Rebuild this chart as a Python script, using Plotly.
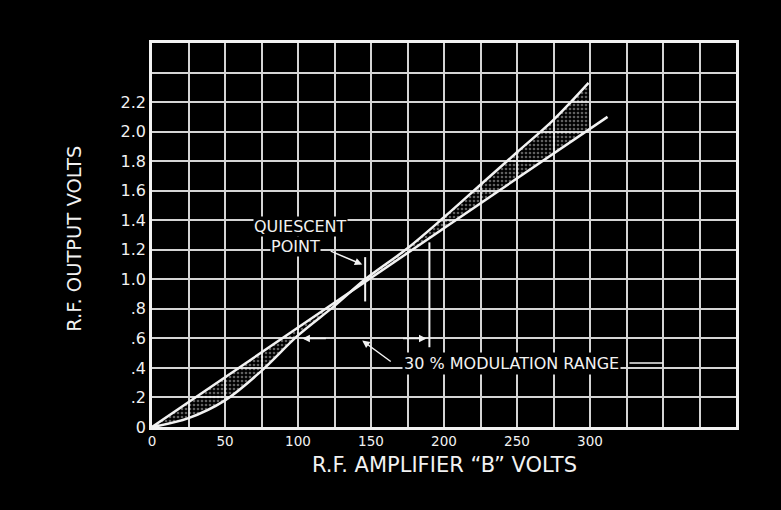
import numpy as np
import plotly.graph_objects as go

# ---- data ----
X_TICKS = [0, 50, 100, 150, 200, 250, 300]
Y_TICKS = [0, 0.2, 0.4, 0.6, 0.8, 1.0, 1.2, 1.4, 1.6, 1.8, 2.0, 2.2]
Y_TICK_TEXT = ["0", ".2", ".4", ".6", ".8", "1.0", "1.2", "1.4", "1.6", "1.8", "2.0", "2.2"]

LINE_X = [0, 312]          # linear reference
LINE_Y = [0, 2.1]

S_X = [0, 25, 50, 75, 100, 125, 146, 175, 200, 225, 250, 275, 299]   # actual characteristic
S_Y = [0, 0.06, 0.18, 0.38, 0.62, 0.82, 1.00, 1.21, 1.42, 1.64, 1.86, 2.08, 2.33]

Q_X, Q_Y = 146, 1.0                 # quiescent point
MOD_LO, MOD_HI = 101, 190           # 30% modulation range (B volts)

WHITE = "#f2f2f2"
GRID = "#d4d4d4"

fig = go.Figure()

# shaded (dotted) region between the two curves
line_on_s = np.interp(S_X, LINE_X, LINE_Y)
fig.add_trace(go.Scatter(
    x=list(S_X) + list(S_X[::-1]),
    y=list(S_Y) + list(line_on_s[::-1]),
    fill="toself", mode="none",
    fillcolor="rgba(0,0,0,0)",
    fillpattern=dict(shape=".", fgcolor="rgba(255,255,255,0.75)", bgcolor="rgba(0,0,0,0)",
                     size=4, solidity=0.35),
    hoverinfo="skip", showlegend=False))

fig.add_trace(go.Scatter(x=LINE_X, y=LINE_Y, mode="lines",
                         line=dict(color=WHITE, width=2.5), showlegend=False))
fig.add_trace(go.Scatter(x=S_X, y=S_Y, mode="lines", line_shape="spline",
                         line=dict(color=WHITE, width=2.5), showlegend=False))

ann_font = dict(family="DejaVu Sans", size=16, color=WHITE)

# quiescent point marker
fig.add_shape(type="line", x0=Q_X, x1=Q_X, y0=Q_Y - 0.15, y1=Q_Y + 0.15,
              line=dict(color=WHITE, width=2))
# modulation range marker (upper end)
fig.add_shape(type="line", x0=MOD_HI, x1=MOD_HI, y0=0.54, y1=1.25,
              line=dict(color=WHITE, width=2))

fig.add_annotation(x=102, y=1.36, text="QUIESCENT", showarrow=False,
                   font=ann_font, bgcolor="black", borderpad=0)
fig.add_annotation(x=98.6, y=1.222, text="POINT", showarrow=False,
                   font=ann_font, bgcolor="black", borderpad=0)
fig.add_annotation(x=Q_X - 2, y=1.10, ax=-33, ay=-14, text="", showarrow=True,
                   arrowhead=2, arrowsize=1, arrowwidth=1.5, arrowcolor=WHITE)

# modulation range arrows
fig.add_annotation(x=MOD_LO + 2, y=0.6, ax=25, ay=0, text="", showarrow=True,
                   arrowhead=2, arrowsize=1, arrowwidth=1.5, arrowcolor=WHITE)
fig.add_annotation(x=MOD_HI - 2, y=0.6, ax=-25, ay=0, text="", showarrow=True,
                   arrowhead=2, arrowsize=1, arrowwidth=1.5, arrowcolor=WHITE)
fig.add_annotation(x=144, y=0.585, ax=30, ay=22, text="", showarrow=True,
                   arrowhead=2, arrowsize=1, arrowwidth=1.5, arrowcolor=WHITE)
fig.add_annotation(x=246, y=0.433, text="30 % MODULATION RANGE", showarrow=False,
                   font=ann_font, bgcolor="black", borderpad=1)
fig.add_shape(type="line", x0=327, x1=350, y0=0.433, y1=0.433,
              line=dict(color=WHITE, width=1.5))

# axis titles
fig.add_annotation(xref="paper", yref="paper", x=0.5, y=-0.099,
                   xanchor="center", yanchor="middle",
                   text="R.F. AMPLIFIER \u201cB\u201d VOLTS", showarrow=False,
                   font=dict(family="DejaVu Sans", size=21, color=WHITE))
fig.add_annotation(xref="paper", yref="paper", x=-0.132, y=0.49,
                   xanchor="center", yanchor="middle",
                   text="R.F. OUTPUT VOLTS", textangle=-90, showarrow=False,
                   font=dict(family="DejaVu Sans", size=19.5, color=WHITE))

fig.update_xaxes(range=[0, 400], tickvals=X_TICKS, ticktext=[str(v) for v in X_TICKS],
                 showgrid=True, gridcolor=GRID, gridwidth=2,
                 minor=dict(dtick=25, tick0=0, showgrid=True, gridcolor=GRID, gridwidth=2),
                 showline=True, linecolor=WHITE, linewidth=2.5, mirror=True,
                 zeroline=False, ticks="", ticklen=0,
                 tickfont=dict(family="DejaVu Sans", size=13.5, color=WHITE))
fig.update_yaxes(range=[0, 2.6], tickvals=Y_TICKS, ticktext=Y_TICK_TEXT,
                 showgrid=True, gridcolor=GRID, gridwidth=2,
                 minor=dict(dtick=0.2, tick0=0, showgrid=True, gridcolor=GRID, gridwidth=2),
                 showline=True, linecolor=WHITE, linewidth=2.5, mirror=True,
                 zeroline=False, ticks="", ticklen=0,
                 tickfont=dict(family="DejaVu Sans", size=16, color=WHITE))

fig.update_layout(width=781, height=510,
                  margin=dict(l=152, r=45, t=43, b=83),
                  paper_bgcolor="black", plot_bgcolor="black",
                  showlegend=False)

fig.write_html("out.html",
               config={"displayModeBar": False},
               post_script="document.body.style.margin='0';"
                           "document.body.style.background='black';"
                           "document.body.style.overflow='hidden';")
